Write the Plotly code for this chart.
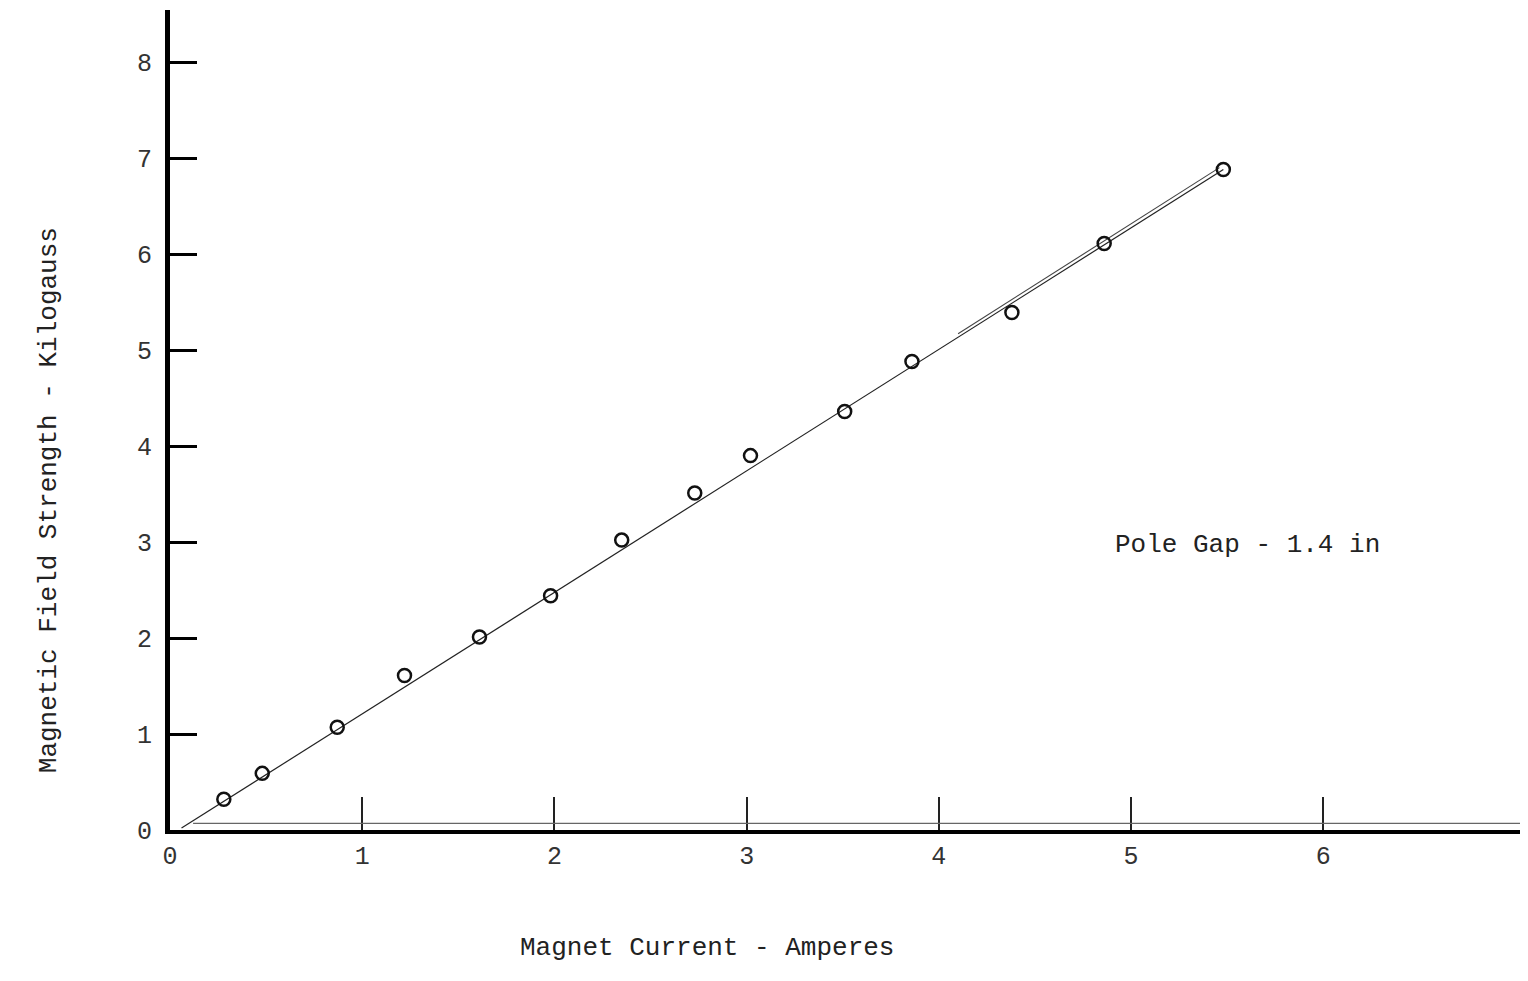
import plotly.graph_objects as go

# Data
current_a = [0.28, 0.48, 0.87, 1.22, 1.61, 1.98, 2.35, 2.73, 3.02, 3.51, 3.86, 4.38, 4.86, 5.48]
field_kg = [0.32, 0.59, 1.07, 1.61, 2.01, 2.44, 3.02, 3.51, 3.90, 4.36, 4.88, 5.39, 6.11, 6.88]
marker_edge = ["#111"] * 3 + ["#888"] + ["#111"] * 10

fit_x = [0.06, 5.48]
fit_y = [0.02, 6.88]
fit2_x = [4.1, 5.46]
fit2_y = [5.17, 6.90]

x_ticks = [0, 1, 2, 3, 4, 5, 6]
y_ticks = [0, 1, 2, 3, 4, 5, 6, 7, 8]

FONT = "Liberation Mono, Courier New, monospace"

fig = go.Figure()

fig.add_trace(go.Scatter(x=fit_x, y=fit_y, mode="lines",
                         line=dict(color="#222", width=1.2), showlegend=False))
fig.add_trace(go.Scatter(x=fit2_x, y=fit2_y, mode="lines",
                         line=dict(color="#444", width=1.1), showlegend=False))
fig.add_trace(go.Scatter(x=current_a, y=field_kg, mode="markers",
                         marker=dict(symbol="circle-open", size=13, color="#111",
                                     line=dict(width=2.5, color=marker_edge)),
                         showlegend=False, cliponaxis=False))

# thin second rule above the x axis (drawn double in the original)
fig.add_shape(type="line", xref="x", yref="y", x0=0.12, x1=7.07, y0=0.07, y1=0.07,
              line=dict(color="#666", width=1.2))

fig.update_layout(
    width=1528, height=981,
    margin=dict(l=162, r=8, t=2, b=159, autoexpand=False),
    paper_bgcolor="white", plot_bgcolor="white",
    font=dict(family=FONT, color="#222"),
    xaxis=dict(range=[0, 7.065], tickvals=x_ticks, ticktext=[str(v) for v in x_ticks],
               showgrid=False, zeroline=False, showline=True, linecolor="black",
               linewidth=4, ticks="inside", ticklen=33, tickwidth=2, tickcolor="#222",
               ticklabelstandoff=0, tickfont=dict(size=25, family=FONT, color="#333"),
               fixedrange=True),
    yaxis=dict(range=[0, 8.542], tickvals=y_ticks, ticktext=[str(v) for v in y_ticks],
               showgrid=False, zeroline=False, showline=True, linecolor="black",
               linewidth=5, ticks="inside", ticklen=27, tickwidth=3, tickcolor="black",
               ticklabelstandoff=8, tickfont=dict(size=25, family=FONT, color="#333"),
               fixedrange=True),
    annotations=[
        dict(text="Magnet Current - Amperes", xref="paper", yref="paper",
             x=0.3956, y=-0.1646, showarrow=False, font=dict(size=26, family=FONT, color="#222")),
        dict(text="Magnetic Field Strength - Kilogauss", xref="paper", yref="paper",
             x=-0.1015, y=0.4024, textangle=-90, showarrow=False,
             font=dict(size=26, family=FONT, color="#222")),
        dict(text="Pole Gap - 1.4 in", xref="x", yref="y", x=5.605, y=2.97,
             showarrow=False, font=dict(size=26, family=FONT, color="#222")),
    ],
)

fig.write_html("out.html")
